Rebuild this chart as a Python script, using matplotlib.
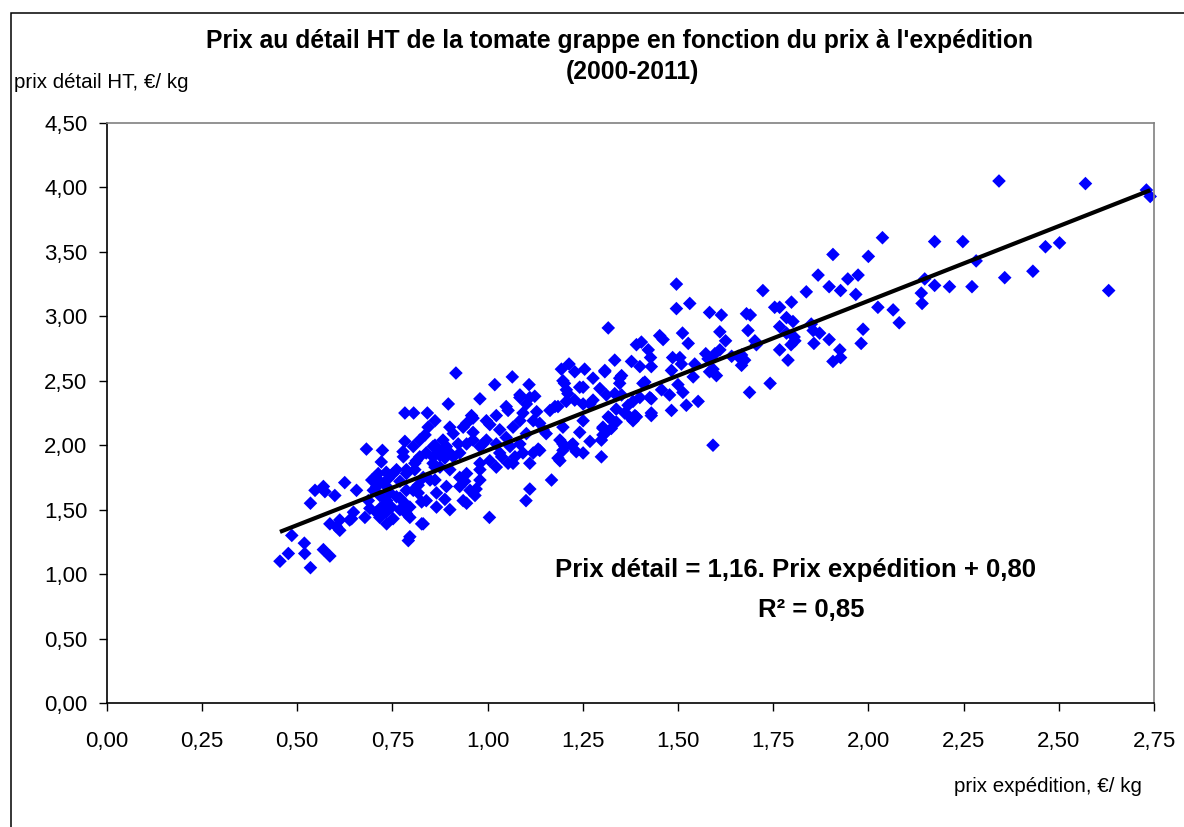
import matplotlib
matplotlib.use("Agg")
import matplotlib.pyplot as plt
from matplotlib.patches import Rectangle

plt.rcParams['font.family'] = ['Liberation Sans', 'DejaVu Sans']

# ---- data ----
prix_expedition = [
    # upper right
    2.037, 2.174, 2.248, 1.907, 2.000, 1.868, 1.946, 1.973, 1.897, 1.927, 1.967, 1.837, 1.798, 1.767,
    2.148, 2.174, 2.213, 2.272, 2.283, 2.139, 2.141, 2.025, 2.065, 2.081, 1.785, 1.802, 1.850, 1.855,
    1.872, 1.767, 1.785, 1.807, 1.797, 1.767, 1.789, 1.857, 1.897, 1.986, 1.981, 1.925, 1.927, 1.907,
    2.343, 2.570, 2.730, 2.740, 2.465, 2.502, 2.358, 2.432, 2.631,
    # 1.30 - 1.80
    1.496, 1.496, 1.531, 1.723, 1.754, 1.317, 1.583, 1.614, 1.680, 1.690, 1.684, 1.610, 1.625, 1.805,
    1.702, 1.706, 1.658, 1.667, 1.641, 1.452, 1.461, 1.512, 1.527, 1.391, 1.404, 1.422, 1.428, 1.334,
    1.378, 1.308, 1.352, 1.400, 1.430, 1.486, 1.505, 1.483, 1.544, 1.573, 1.597, 1.579, 1.583, 1.601,
    1.540, 1.509, 1.408, 1.347, 1.334, 1.312, 1.430, 1.457, 1.500, 1.513, 1.478, 1.553, 1.522, 1.483,
    1.382, 1.369, 1.360, 1.373, 1.391, 1.430, 1.382, 1.688, 1.742, 1.592, 1.317, 1.303, 1.308, 1.299,
    1.610, 1.667, 1.675, 1.592,
    # 0.80 - 1.35
    0.917, 1.019, 1.065, 1.109, 1.124, 0.980, 0.897, 0.842, 0.862, 0.822, 0.836, 1.194, 1.214, 1.229,
    1.255, 1.277, 1.308, 1.198, 1.251, 1.295, 1.177, 1.207, 1.229, 1.251, 1.277, 1.164, 1.049, 1.085,
    1.023, 1.006, 1.054, 1.093, 1.120, 1.146, 1.198, 1.154, 1.190, 1.203, 1.220, 1.233, 1.269, 1.299,
    1.321, 1.338, 1.190, 1.120, 1.133, 1.168, 1.111, 1.101, 1.005, 0.901, 0.839, 0.888, 0.831, 0.954,
    0.967, 0.936, 0.945, 0.927, 0.940, 0.980, 1.054, 1.072, 1.037, 1.006, 0.980, 1.023, 0.875, 0.901,
    0.857, 0.910, 0.945, 0.927, 0.980, 0.997, 1.023, 1.049, 1.059, 1.085, 1.102, 1.067, 1.032, 0.962,
    0.910, 0.883, 0.857, 0.875, 0.844, 0.945, 0.997, 0.958, 0.936, 1.242, 1.338, 1.111, 1.303,
    1.347, 1.242, 1.207, 1.269, 1.352, 1.413, 1.400, 1.426, 1.430, 1.387, 1.251, 1.325, 1.303, 1.224,
    1.198, 1.251,
    1.085, 1.102, 1.129, 0.962, 1.085, 1.137, 1.202, 1.211, 1.185, 1.198, 1.185, 0.970, 1.137, 1.111,
    1.032, 0.980, 0.945, 0.927, 0.892, 0.923, 0.901, 0.901, 0.962, 0.988, 1.067, 1.093,
    # 0.45 - 0.90
    0.455, 0.477, 0.486, 0.519, 0.520, 0.535, 0.569, 0.586, 0.535, 0.547, 0.569, 0.573, 0.599, 0.625,
    0.656, 0.682, 0.724, 0.721, 0.713, 0.696, 0.586, 0.603, 0.612, 0.643, 0.648, 0.678, 0.708, 0.735,
    0.687, 0.717, 0.735, 0.748, 0.761, 0.787, 0.783, 0.770, 0.796, 0.792, 0.827, 0.783, 0.806, 0.783,
    0.805, 0.779, 0.813, 0.839, 0.862, 0.857, 0.809, 0.831, 0.862, 0.752, 0.739, 0.770, 0.787, 0.735,
    0.709, 0.700, 0.721, 0.805, 0.818, 0.866, 0.866, 0.827,
    0.704, 0.717, 0.734, 0.761, 0.787, 0.744, 0.770, 0.734, 0.717, 0.691, 0.796, 0.796, 0.787, 0.752,
    0.612, 0.638, 0.818, 0.849, 0.822, 0.875, 0.892, 0.888, 0.862, 0.809, 0.778,
]
prix_detail = [
    # upper right
    3.61, 3.58, 3.58, 3.48, 3.465, 3.32, 3.29, 3.32, 3.23, 3.20, 3.17, 3.19, 3.11, 3.07,
    3.29, 3.24, 3.23, 3.23, 3.43, 3.18, 3.10, 3.07, 3.05, 2.95, 2.99, 2.96, 2.94, 2.89,
    2.87, 2.92, 2.87, 2.81, 2.78, 2.74, 2.66, 2.79, 2.82, 2.90, 2.79, 2.74, 2.68, 2.65,
    4.05, 4.03, 3.98, 3.93, 3.54, 3.57, 3.30, 3.35, 3.20,
    # 1.30 - 1.80
    3.25, 3.06, 3.10, 3.20, 3.07, 2.91, 3.03, 3.01, 3.02, 3.01, 2.89, 2.88, 2.81, 2.84,
    2.81, 2.78, 2.69, 2.62, 2.69, 2.85, 2.82, 2.87, 2.79, 2.78, 2.80, 2.74, 2.68, 2.66,
    2.65, 2.57, 2.54, 2.61, 2.61, 2.68, 2.68, 2.58, 2.63, 2.71, 2.71, 2.67, 2.57, 2.54,
    2.53, 2.63, 2.48, 2.48, 2.40, 2.39, 2.36, 2.43, 2.47, 2.41, 2.39, 2.34, 2.31, 2.27,
    2.34, 2.31, 2.25, 2.22, 2.22, 2.25, 2.19, 2.41, 2.48, 2.00, 2.22, 2.14, 2.09, 1.91,
    2.74, 2.70, 2.66, 2.59,
    # 0.80 - 1.35
    2.56, 2.47, 2.53, 2.47, 2.38, 2.36, 2.32, 2.25, 2.19, 2.04, 2.08, 2.59, 2.63, 2.57,
    2.59, 2.52, 2.58, 2.50, 2.45, 2.44, 2.30, 2.34, 2.35, 2.32, 2.35, 2.27, 2.30, 2.37,
    2.23, 2.16, 2.27, 2.25, 2.19, 2.12, 2.14, 2.09, 2.04, 1.99, 2.00, 1.95, 2.03, 2.04,
    2.21, 2.18, 1.88, 1.94, 1.97, 1.73, 1.66, 1.57, 1.44, 1.50, 1.57, 1.58, 1.39, 1.65,
    1.61, 1.57, 1.55, 1.75, 1.72, 1.73, 1.86, 1.91, 1.91, 1.88, 1.86, 1.83, 1.83, 1.81,
    1.91, 1.91, 2.01, 1.94, 1.99, 2.04, 2.01, 2.06, 1.99, 2.01, 2.09, 2.14, 2.12, 2.10,
    2.09, 2.04, 1.99, 1.95, 2.14, 2.17, 2.19, 2.23, 2.14, 2.10, 2.28, 2.37, 2.13,
    2.52, 2.45, 2.43, 2.32, 2.39, 2.49, 2.37, 2.37, 2.23, 2.23, 2.19, 2.13, 2.08, 2.01,
    1.96, 1.94,
    2.39, 2.32, 2.26, 2.21, 2.19, 2.17, 2.48, 2.40, 2.30, 2.01, 1.90, 1.66, 1.96, 1.86,
    1.94, 1.81, 1.78, 1.68, 1.68, 2.01, 1.94, 2.14, 2.04, 2.01, 1.86, 1.94,
    # 0.45 - 0.90
    1.10, 1.16, 1.30, 1.24, 1.16, 1.05, 1.19, 1.14, 1.55, 1.65, 1.68, 1.64, 1.61, 1.71,
    1.65, 1.97, 1.96, 1.87, 1.78, 1.73, 1.39, 1.37, 1.42, 1.43, 1.48, 1.44, 1.48, 1.39,
    1.57, 1.61, 1.57, 1.52, 1.60, 1.65, 1.55, 1.50, 1.29, 1.26, 1.39, 2.25, 2.25, 2.03,
    1.99, 1.91, 1.88, 1.94, 2.00, 1.86, 1.81, 1.75, 1.73, 1.78, 1.74, 1.72, 1.78, 1.68,
    1.68, 1.65, 1.52, 1.65, 1.63, 1.63, 1.52, 1.56,
    1.75, 1.72, 1.79, 1.81, 1.81, 1.63, 1.59, 1.48, 1.44, 1.51, 1.52, 1.44, 1.47, 1.43,
    1.34, 1.42, 1.69, 1.73, 1.91, 1.92, 1.99, 1.90, 1.83, 1.86, 1.95,
]

pente = 1.16
ordonnee = 0.80
r_carre = 0.85

x_ticks = [0.00, 0.25, 0.50, 0.75, 1.00, 1.25, 1.50, 1.75, 2.00, 2.25, 2.50, 2.75]
y_ticks = [0.00, 0.50, 1.00, 1.50, 2.00, 2.50, 3.00, 3.50, 4.00, 4.50]

titre_1 = "Prix au détail HT de la tomate grappe en fonction du prix à l'expédition"
titre_2 = "(2000-2011)"
label_y = "prix détail HT, €/ kg"
label_x = "prix expédition, €/ kg"


def fr(v):
    return f"{v:.2f}".replace(".", ",")


fig = plt.figure(figsize=(11.84, 8.27), dpi=100)
ax = fig.add_axes([106.7 / 1184, 1 - 703 / 827, (1154 - 106.7) / 1184, (703 - 123) / 827])

ax.scatter(prix_expedition, prix_detail, marker='D', s=48, c='#0000FF',
           edgecolors='none', zorder=2, clip_on=False)

xl = [min(prix_expedition), max(prix_expedition)]
ax.plot(xl, [pente * v + ordonnee for v in xl], color='black', lw=3, zorder=3,
        solid_capstyle='butt')

ax.set_xlim(x_ticks[0], x_ticks[-1])
ax.set_ylim(y_ticks[0], y_ticks[-1])
ax.set_xticks(x_ticks)
ax.set_yticks(y_ticks)
ax.set_xticklabels([fr(v) for v in x_ticks])
ax.set_yticklabels([fr(v) for v in y_ticks])

for s in ['left', 'bottom']:
    ax.spines[s].set_color('black')
    ax.spines[s].set_linewidth(1.2)
for s in ['top', 'right']:
    ax.spines[s].set_color('#808080')
    ax.spines[s].set_linewidth(1.2)

ax.tick_params(axis='both', direction='out', length=6, width=1.0, labelsize=16,
               colors='black')
ax.tick_params(axis='x', pad=14)
ax.tick_params(axis='y', pad=8)

fig.text(620 / 1184, 1 - 41 / 827, titre_1, ha='center', va='center', fontsize=17.8,
         fontweight='bold')
fig.text(632 / 1184, 1 - 72 / 827, titre_2, ha='center', va='center', fontsize=17.8,
         fontweight='bold')
fig.text(14 / 1184, 1 - 82 / 827, label_y, ha='left', va='center', fontsize=14.8)
fig.text(1142 / 1184, 1 - 786 / 827, label_x, ha='right', va='center', fontsize=14.8)

ax.text(0.658, 0.229, f"Prix détail = {fr(pente)}. Prix expédition + {fr(ordonnee)}",
        transform=ax.transAxes, ha='center', va='center', fontsize=18.5, fontweight='bold')
ax.text(0.673, 0.160, f"R² = {fr(r_carre)}", transform=ax.transAxes,
        ha='center', va='center', fontsize=18.5, fontweight='bold')

fig.add_artist(Rectangle((11 / 1184, -0.05), 1.2, 0.05 + 1 - 12.7 / 827,
                         transform=fig.transFigure, fill=False, ec='black', lw=1.1))

fig.savefig("out.png", dpi=100)
